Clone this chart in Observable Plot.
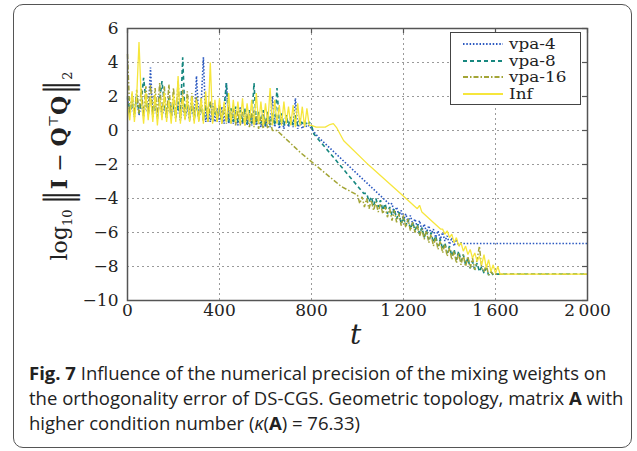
<!DOCTYPE html>
<html><head><meta charset="utf-8">
<script src="https://cdn.jsdelivr.net/npm/d3@7"></script>
<script src="https://cdn.jsdelivr.net/npm/@observablehq/plot@0.6"></script>
<style>
html,body{margin:0;padding:0;background:#fff;width:637px;height:451px;overflow:hidden;position:relative}
#frame{position:absolute;left:13px;top:4px;width:619px;height:444px;border:1.3px solid #555;border-radius:10px;box-sizing:border-box}
#chart{position:absolute;left:0;top:0}
#ylab{position:absolute;left:60px;top:166px;transform:translate(-50%,-50%) rotate(-90deg);white-space:nowrap;font-family:"DejaVu Serif";color:#222;font-size:22px}
#ylab .bar{display:inline-block;font-size:24px;transform:scale(1.1,1.55);margin:0 2px}
#xlab{position:absolute;left:350px;top:318px;font-family:"DejaVu Serif";font-style:italic;font-size:28px;color:#222}
#legend{position:absolute;left:450px;top:32px;width:131px;height:73px;box-sizing:border-box;border:1.3px solid #444;background:#fff;font-family:"DejaVu Serif";font-size:14px;color:#222}
#legend .row{position:absolute;left:12px;height:16px;display:flex;align-items:center}
#legend .row span{margin-left:6px;display:inline-block;transform:scaleX(1.2);transform-origin:left center}
#caption{position:absolute;left:29px;top:360px;font-family:"Open Sans";font-size:18.5px;color:#222;line-height:25px;white-space:nowrap}
</style></head>
<body>
<div id="chart"></div>
<div id="ylab">log<sub style="font-size:13px">10</sub>&#8201;<span class="bar">‖</span><b>I</b> − <b>Q</b><sup style="font-size:13px">⊤</sup><b>Q</b><span class="bar">‖</span><sub style="font-size:13px">2</sub></div>
<div id="xlab">t</div>
<div id="legend"></div>
<div id="caption"></div>
<div id="frame"></div>
<script>
const xTicks = [0, 400, 800, 1200, 1600, 2000];
const yTicks = [-10, -8, -6, -4, -2, 0, 2, 4, 6];
const seriesNames = ["vpa-4", "vpa-8", "vpa-16", "Inf"];
const seriesColors = ["#2a58c0", "#17877f", "#a3a536", "#f6e63c"];
const seriesDash = ["1.5,1.8", "4,3", "5,2,1.5,2", null];
const seriesWidth = [1.6, 1.6, 1.5, 1.3];

// noisy phase, sampled every 10 iterations from t = 0
const vpa4Noise = [1.9,0.9,1.7,0.8,2.0,0.9,1.6,0.8,1.8,0.9,
 3.7,0.8,1.6,0.7,1.9,0.8,1.5,0.7,1.7,0.8,
 1.4,0.7,1.6,0.6,1.5,0.7,1.4,0.6,1.5,0.6,
 3.2,0.6,1.5,4.3,0.5,1.4,0.5,1.6,0.5,1.3,
 0.5,1.4,0.4,2.8,0.4,1.3,0.4,1.2,0.3,1.4,
 0.4,1.2,0.3,1.1,0.3,1.2,0.3,1.0,0.2,1.1,
 0.2,1.0,0.2,2.0,0.2,0.9,0.1,0.8,0.1,0.9,
 0.2,0.7,0.2,1.9,0.1,0.5,0.1,0.4,0.2,0.3,
 0.1];
const vpa8Noise = [2.0,1.0,1.8,0.9,2.1,1.0,1.7,3.1,1.8,0.9,
 2.0,0.9,1.7,0.8,1.8,2.9,1.6,0.8,1.9,0.8,
 1.6,0.8,1.7,0.7,4.3,0.8,1.6,0.7,1.7,0.7,
 1.5,0.7,1.6,0.6,1.5,0.6,1.7,0.6,1.4,0.6,
 1.5,0.5,1.4,2.8,0.5,1.3,0.5,1.4,0.5,1.2,
 0.5,1.3,0.4,1.2,0.4,2.8,0.4,1.1,0.4,1.2,
 0.3,1.1,0.3,1.0,0.3,2.5,0.3,1.0,0.3,0.9,
 0.3,0.8,0.3,0.9,0.3,0.7,0.4,0.6,0.3,0.5,
 0.3];
const vpa16Noise = [4.5,1.0,2.2,0.9,2.4,1.0,2.5,0.9,2.6,1.0,
 2.7,0.9,2.5,0.9,2.8,0.8,2.6,0.8,2.7,0.8,
 2.5,0.8,2.9,0.7,2.4,0.7,2.3,0.7,2.2,0.6,
 2.0,0.6,1.9,0.6,1.8,0.5,1.7,0.5,1.6,0.5,
 1.5,0.4,1.5,0.4,1.4,0.4,1.3,0.3,1.2,0.3,
 1.1,0.3,1.0,0.2,1.0,0.2,0.9,0.1,0.8,0.1,
 0.7,0.1,0.6,0.0];
const infNoise = [1.5,0.6,2.3,0.5,2.0,5.2,1.8,0.4,2.2,0.6,
 2.0,0.5,2.1,0.3,1.9,0.6,2.2,0.5,1.8,0.4,
 2.1,0.5,3.2,0.4,2.0,0.6,1.9,0.5,2.0,0.4,
 1.8,0.5,1.9,0.4,2.3,0.5,4.0,0.4,1.8,0.5,
 1.9,0.4,1.7,0.5,2.2,0.4,1.8,0.5,1.7,0.4,
 1.9,0.3,1.6,0.5,1.8,0.3,2.2,0.4,1.7,0.3,
 1.6,0.4,2.5,0.3,1.8,0.4,1.5,0.3,1.7,0.4,
 1.4,0.3,1.5,0.2,1.6,0.3,1.4,0.2,1.3,0.3,
 0.3];

// smooth decline phase (key points)
const vpa4DeclineT = [830, 1140];
const vpa4DeclineV = [-0.4, -4.35];
const vpa8DeclineT = [810, 1027];
const vpa8DeclineV = [-0.2, -3.7];
const vpa16DeclineT = [650, 752, 930];
const vpa16DeclineV = [0.0, -1.3, -3.3];
const infDeclineT = [820, 860, 880, 895, 910, 940, 1050, 1187, 1260, 1270, 1280, 1361];
const infDeclineV = [0.2, 0.2, 0.35, 0.4, 0.15, -0.6, -2.05, -3.7, -4.6, -4.4, -4.8, -5.8];

// noisy band phase, sampled every 10 iterations from the given start
const vpa4BandStart = 1150;
const vpa4Band = [-4.3,-4.9,-4.5,-5.0,-4.7,-5.3,-4.9,-5.4,-5.0,-5.5,
 -5.2,-5.7,-5.3,-5.9,-5.5,-6.0,-5.6,-6.1,-5.8,-6.3,
 -5.9,-6.4,-6.0,-6.5,-6.2,-6.7,-6.3,-6.8,-6.4,-6.8,-6.6];
const vpa8BandStart = 1040;
const vpa8Band = [-3.7,-4.2,-3.9,-4.4,-4.0,-4.5,-4.1,-4.7,-4.3,-4.9,
 -4.5,-5.0,-4.6,-5.2,-4.8,-5.5,-5.1,-5.6,-5.2,-5.8,
 -5.4,-5.9,-5.5,-6.1,-5.7,-6.3,-5.9,-6.4,-6.0,-6.6,
 -6.2,-6.8,-6.4,-7.0,-6.6,-7.2,-6.8,-7.4,-7.0,-7.6,
 -7.1,-7.7,-7.3,-7.9,-7.5,-8.1,-7.7,-8.2,-7.8,-8.3,
 -8.0,-8.4,-8.1,-8.5,-8.3,-8.5,-8.45];
const vpa16BandStart = 1000;
const vpa16Band = [-3.8,-4.3,-3.9,-4.5,-4.0,-4.6,-4.1,-4.7,-4.2,-4.8,
 -4.3,-4.9,-4.5,-5.1,-4.6,-5.3,-4.7,-5.4,-4.9,-5.6,
 -5.0,-5.7,-5.2,-5.9,-5.4,-6.0,-5.6,-6.2,-5.8,-6.4,
 -5.9,-6.6,-6.1,-6.8,-6.3,-7.0,-6.5,-7.2,-6.7,-7.4,
 -6.9,-7.6,-7.1,-7.8,-7.2,-7.9,-7.3,-8.0,-7.4,-8.1,
 -7.5,-8.2,-7.6,-6.8,-8.1,-8.3,-7.9,-8.5,-8.3,-8.45];
const infBandStart = 1370;
const infBand = [-5.8,-6.1,-5.9,-6.3,-6.1,-6.6,-6.3,-6.8,-6.6,-7.1,
 -6.8,-7.3,-7.0,-7.5,-7.2,-7.7,-7.4,-7.9,-7.3,-8.1,
 -7.6,-8.3,-7.9,-8.4,-8.0,-8.45];

// final plateau
const vpa4TailT = [1460, 2000];
const vpa4TailV = [-6.65, -6.65];
const vpa8TailT = [2000];
const vpa8TailV = [-8.45];
const vpa16TailT = [2000];
const vpa16TailV = [-8.45];
const infTailT = [2000];
const infTailV = [-8.45];

function build(name, noise, dT, dV, bStart, band, tT, tV) {
  const rows = [];
  noise.forEach((v, i) => rows.push({s: name, t: i * 10, v}));
  dT.forEach((t, i) => rows.push({s: name, t, v: dV[i]}));
  band.forEach((v, i) => rows.push({s: name, t: bStart + i * 10, v}));
  tT.forEach((t, i) => rows.push({s: name, t, v: tV[i]}));
  return rows;
}
const series = [
  build("vpa-4", vpa4Noise, vpa4DeclineT, vpa4DeclineV, vpa4BandStart, vpa4Band, vpa4TailT, vpa4TailV),
  build("vpa-8", vpa8Noise, vpa8DeclineT, vpa8DeclineV, vpa8BandStart, vpa8Band, vpa8TailT, vpa8TailV),
  build("vpa-16", vpa16Noise, vpa16DeclineT, vpa16DeclineV, vpa16BandStart, vpa16Band, vpa16TailT, vpa16TailV),
  build("Inf", infNoise, infDeclineT, infDeclineV, infBandStart, infBand, infTailT, infTailV)
];

const fmtX = d => d >= 1000 ? String(d).replace(/(\d)(\d{3})$/, "$1\u2009$2") : String(d);
const gridStyle = {stroke: "#9a9a9a", strokeWidth: 1, strokeDasharray: "2,3"};
const drawOrder = [0, 1, 2, 3];

const plot = Plot.plot({
  width: 637, height: 350,
  marginLeft: 127, marginRight: 50, marginTop: 28, marginBottom: 50,
  style: {fontFamily: "DejaVu Serif", fontSize: "17px", color: "#222", background: "transparent"},
  x: {domain: [0, 2000], ticks: xTicks, tickFormat: fmtX, tickSize: 0, tickPadding: 3, label: null},
  y: {domain: [-10, 6], ticks: yTicks, tickSize: 0, tickPadding: 9, label: null},
  marks: [
    Plot.ruleX(xTicks.slice(1, -1), gridStyle),
    Plot.ruleY(yTicks.slice(1, -1), gridStyle),
    ...drawOrder.map(i => Plot.line(series[i], {
      x: "t", y: "v", stroke: seriesColors[i], strokeWidth: seriesWidth[i],
      strokeDasharray: seriesDash[i], strokeLinejoin: "miter", strokeLinecap: "butt"
    })),
    Plot.tickY(yTicks, {y: d => d, insetLeft: 455, stroke: "#555", strokeWidth: 1.2}),
    Plot.tickX(xTicks, {x: d => d, insetBottom: 267, stroke: "#555", strokeWidth: 1.2}),
    Plot.frame({stroke: "#555", strokeWidth: 1.5})
  ]
});
document.getElementById("chart").appendChild(plot);

// legend
const lg = document.getElementById("legend");
const rowTops = [3, 19.5, 36, 52.5];
seriesNames.forEach((n, i) => {
  const r = document.createElement("div");
  r.className = "row";
  r.style.top = rowTops[i] + "px";
  const dash = seriesDash[i] ? `stroke-dasharray="${seriesDash[i]}"` : "";
  r.innerHTML = `<svg width="40" height="16"><line x1="0" x2="40" y1="8" y2="8" stroke="${seriesColors[i]}" stroke-width="2" ${dash}/></svg><span>${n}</span>`;
  lg.appendChild(r);
});

// caption
document.getElementById("caption").innerHTML =
  '<div><b>Fig. 7</b> Influence of the numerical precision of the mixing weights on</div>' +
  '<div>the orthogonality error of DS-CGS. Geometric topology, matrix <b>A</b> with</div>' +
  '<div>higher condition number (<i>κ</i>(<b>A</b>) = 76.33)</div>';
</script>
</body></html>
